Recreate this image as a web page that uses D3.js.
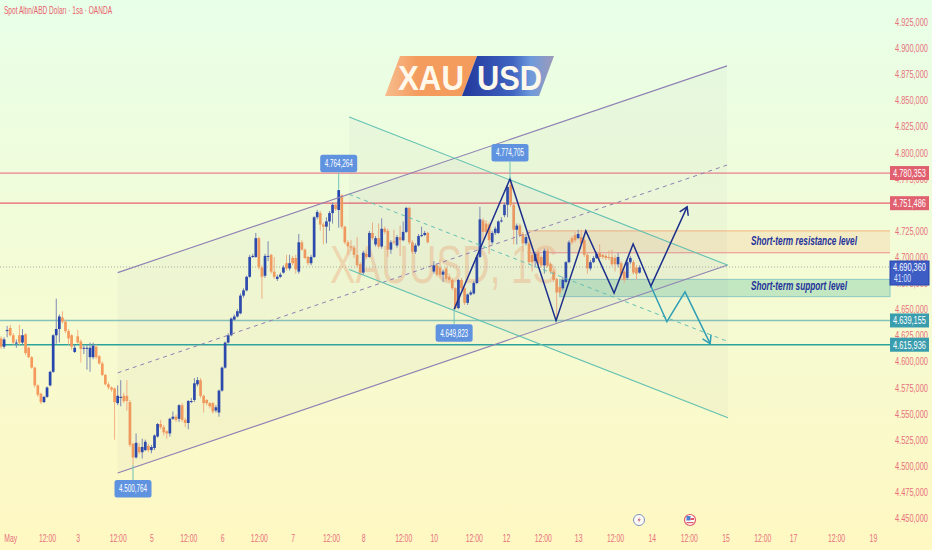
<!DOCTYPE html>
<html>
<head>
<meta charset="utf-8">
<script src="https://cdn.jsdelivr.net/npm/d3@7/dist/d3.min.js"></script>
<style>
html, body { margin: 0; padding: 0; background: #fff; }
svg { display: block; }
text { font-family: "Liberation Sans", sans-serif; }
</style>
</head>
<body>
<svg id="chart"></svg>
<script>
// hourly candles, index = bar number, null = weekend gap
const opens = [
  4622,4614,4629,4632,4625,4618,4625,4618,4626,4613,
  4604,4594,4577,4569,4561,4566,4577,4590,4625,4631,
  4642,4638,4629,4625,4609,4624,4619,4613,4613,4604,
  4604,4614,4605,4598,4587,4578,4575,4574,4560,4565,
  4567,4567,4561,4521,4508,4518,4513,4515,4519,4515,
  4517,4528,4540,4537,4533,4531,4545,4547,4545,4558,
  4544,4541,4562,4563,4578,4582,4567,4563,4560,4560,
  4553,4551,4572,4594,4618,4625,4640,4643,4646,4663,
  4668,4681,4700,4700,4718,4690,4682,4701,4702,4686,
  4679,4681,4685,4694,4689,4699,4699,4686,4714,4707,
  4700,4694,4700,4738,4742,4731,4729,4734,4742,4750,
  4745,4759,4729,4714,4710,4709,4702,4693,4685,4703,
  4700,4723,4712,4718,4710,4727,4725,4707,4715,4711,
  4719,4716,4724,4747,4714,4705,4711,4720,4721,4723,
  null,4686,4692,4690,4683,4689,4681,4678,4670,4651,
  4678,4670,4656,4664,4665,4675,4700,4735,4732,4731,
  4714,4723,4723,4734,4740,4750,4769,4750,4726,4730,
  4722,4713,4713,4702,4696,4704,4700,4692,4706,4693,
  4686,4679,4671,4670,4676,4695,4718,4721,4718,4719,
  4716,4702,4689,4695,4699,4704,4702,4701,4700,4700,
  4699,4693,4694,4686,4680,4695,4695,4690,4685];
const highs = [
  4624,4623,4634,4635,4627,4621,4635,4631,4627,4614,
  4605,4595,4578,4570,4567,4576,4591,4626,4660,4645,
  4648,4640,4631,4626,4616,4630,4621,4615,4616,4618,
  4618,4616,4606,4600,4588,4580,4576,4575,4577,4582,
  4570,4582,4563,4522,4531,4522,4526,4525,4521,4520,
  4530,4541,4544,4539,4534,4546,4552,4549,4559,4560,
  4546,4563,4565,4584,4585,4584,4568,4564,4561,4561,
  4558,4573,4595,4619,4627,4642,4645,4650,4665,4670,
  4682,4702,4703,4723,4719,4692,4703,4715,4703,4700,
  4683,4685,4692,4702,4702,4701,4702,4722,4716,4708,
  4701,4702,4739,4745,4744,4733,4738,4744,4752,4752,
  4764,4760,4730,4716,4716,4711,4719,4695,4706,4705,
  4725,4733,4720,4732,4737,4729,4727,4716,4726,4721,
  4730,4734,4748,4748,4716,4713,4722,4729,4725,4724,
  null,4696,4694,4698,4688,4691,4684,4680,4671,4679,
  4680,4671,4665,4668,4677,4702,4748,4737,4735,4733,
  4725,4729,4735,4738,4752,4768,4775,4751,4732,4732,
  4724,4722,4715,4704,4705,4706,4702,4708,4708,4695,
  4688,4680,4672,4681,4696,4716,4720,4724,4726,4726,
  4718,4704,4697,4701,4705,4712,4703,4703,4706,4707,
  4702,4704,4696,4688,4697,4701,4697,4692,4692];
const lows = [
  4612,4612,4623,4624,4616,4613,4616,4616,4606,4603,
  4593,4575,4566,4559,4560,4565,4576,4589,4617,4618,
  4636,4627,4616,4611,4608,4617,4599,4607,4592,4590,
  4602,4602,4597,4586,4577,4573,4571,4525,4558,4557,
  4560,4553,4518,4501,4507,4511,4507,4514,4513,4512,
  4515,4527,4535,4529,4526,4528,4544,4542,4542,4542,
  4537,4535,4560,4561,4576,4565,4551,4558,4555,4550,
  4551,4547,4571,4593,4617,4624,4639,4642,4645,4661,
  4667,4680,4699,4699,4688,4660,4680,4696,4684,4679,
  4677,4680,4684,4687,4687,4692,4684,4684,4706,4698,
  4692,4692,4699,4736,4725,4712,4713,4725,4732,4744,
  4728,4727,4712,4702,4706,4699,4690,4683,4683,4698,
  4699,4716,4710,4708,4708,4722,4700,4703,4712,4709,
  4701,4715,4723,4712,4703,4703,4710,4719,4720,4713,
  null,4684,4681,4680,4676,4677,4676,4668,4650,4650,
  4668,4654,4654,4663,4664,4674,4699,4715,4722,4703,
  4712,4721,4722,4733,4738,4738,4748,4712,4712,4719,
  4705,4711,4693,4686,4690,4692,4690,4684,4690,4684,
  4676,4640,4664,4668,4675,4694,4712,4714,4717,4712,
  4700,4684,4687,4694,4698,4698,4698,4697,4697,4691,
  4686,4690,4678,4675,4678,4693,4683,4678,4684];
const closes = [
  4614,4621,4630,4625,4618,4618,4618,4625,4608,4604,
  4594,4577,4568,4561,4566,4575,4590,4625,4631,4643,
  4638,4629,4622,4614,4613,4618,4612,4613,4613,4613,
  4615,4604,4598,4587,4578,4575,4573,4561,4567,4566,
  4562,4562,4520,4508,4522,4513,4518,4523,4515,4518,
  4529,4540,4537,4532,4531,4545,4547,4544,4558,4544,
  4541,4562,4562,4579,4582,4567,4560,4560,4557,4552,
  4556,4572,4594,4618,4625,4641,4643,4648,4663,4668,
  4681,4700,4701,4718,4690,4681,4701,4701,4686,4681,
  4681,4683,4690,4689,4694,4694,4688,4714,4707,4699,
  4694,4700,4738,4743,4731,4729,4734,4742,4750,4746,
  4764,4729,4714,4710,4709,4702,4692,4685,4704,4700,
  4723,4718,4718,4710,4727,4724,4707,4714,4714,4719,
  4716,4724,4747,4714,4705,4711,4720,4721,4723,4714,
  null,4692,4683,4683,4686,4679,4678,4670,4651,4678,
  4670,4656,4664,4666,4675,4700,4736,4724,4724,4716,
  4723,4727,4734,4735,4750,4767,4750,4726,4730,4721,
  4713,4719,4695,4695,4703,4694,4692,4706,4692,4686,
  4678,4666,4666,4678,4695,4714,4714,4716,4722,4713,
  4702,4689,4695,4699,4703,4700,4700,4699,4699,4693,
  4693,4700,4683,4678,4695,4699,4685,4684,4690];

const price_ticks = d3.range(4450, 4926, 25);
const time_bars = [3,15,25,38,49,61,72,84,95,107.5,118,131,141,154,164.5,176.5,188,200,212,224,236,248,258,272,284];
const time_labels = ['May','12:00','3','12:00','5','12:00','6','12:00','7','12:00','8','12:00','10','12:00','12','12:00','13','12:00','14','12:00','15','12:00','17','12:00','19'];

const level_prices = [4780.353, 4751.486, 4639.155, 4615.936];
const level_colors = ['#e0606f', '#e0606f', '#3a9dae', '#3a9dae'];
const last_price = 4690.36;
const last_countdown = '41:00';

const swing_labels = [[110, 4764.264, -1], [165.8, 4774.705, -1], [147.6, 4649.823, 1], [43, 4500.764, 1]];

// [bar, price] anchors of the drawings
const rise_top = [[38, 4685], [236.5, 4883]];
const rise_mid = [[38, 4589], [236.5, 4788]];
const rise_bot = [[38, 4493], [236.5, 4692]];
const fall_top = [[113.4, 4834], [236.8, 4692]];
const fall_mid = [[113.4, 4760], [236.8, 4619]];
const fall_bot = [[113.4, 4688], [236.8, 4546]];
const zigzag_main = [[147.6, 4649.8], [165.8, 4774.7], [180.8, 4639], [190.5, 4725], [199.7, 4665.5], [205.9, 4712.5], [211.7, 4672], [223.5, 4748]];
const zigzag_alt = [[211.7, 4672], [216.9, 4638], [222.8, 4666.5], [231, 4617]];
const resist_zone = [171.5, 4725, 4704];
const support_zone = [182, 4678.5, 4662];

let width = 932;
let height = 550;
let plot_right = 890;

let svg = d3.select('#chart').attr('width', width).attr('height', height);

let defs = svg.append('defs');
let bg = defs.append('linearGradient').attr('id', 'bg').attr('x1', 0).attr('x2', 0).attr('y1', 0).attr('y2', 1);
bg.append('stop').attr('offset', '0%').attr('stop-color', '#e8ffe8');
bg.append('stop').attr('offset', '100%').attr('stop-color', '#fff8c2');
let g_orange = defs.append('linearGradient').attr('id', 'logo_a').attr('x1', 0).attr('x2', 1).attr('y1', 0).attr('y2', 0);
g_orange.append('stop').attr('offset', '0%').attr('stop-color', '#f7bd8e');
g_orange.append('stop').attr('offset', '35%').attr('stop-color', '#f49c5e');
g_orange.append('stop').attr('offset', '100%').attr('stop-color', '#f49c5e');
let g_blue = defs.append('linearGradient').attr('id', 'logo_b').attr('x1', 0).attr('x2', 1).attr('y1', 0).attr('y2', 0);
g_blue.append('stop').attr('offset', '0%').attr('stop-color', '#22389c');
g_blue.append('stop').attr('offset', '55%').attr('stop-color', '#3f63c0');
g_blue.append('stop').attr('offset', '75%').attr('stop-color', '#6f9bdc');
g_blue.append('stop').attr('offset', '100%').attr('stop-color', '#9d9ab8');

svg.append('rect').attr('width', width).attr('height', height).attr('fill', 'url(#bg)');

// scales
let x = d3.scaleLinear().domain([0, 290]).range([1, 891.3]);
let y = d3.scaleLinear().domain([4925, 4450]).range([22, 518]);
let line = d3.line().x(d => x(d[0])).y(d => y(d[1]));
let fmt = d3.formatLocale({ decimal: ',', thousands: '.', grouping: [3], currency: ['', ''] }).format(',.3f');

// the reference font is a narrow one, so squeeze the text to fit
function squeeze(sel, len) {
    sel.attr('lengthAdjust', 'spacingAndGlyphs')
        .attr('textLength', function () {
            return len > 1 ? len : this.getComputedTextLength() * len;
        });
}

// watermark
svg.append('text')
    .attr('x', 330).attr('y', 283)
    .attr('font-size', 53)
    .attr('textLength', 228).attr('lengthAdjust', 'spacingAndGlyphs')
    .attr('fill', '#f5a06a').attr('fill-opacity', 0.36)
    .text('XAUUSD, 1S');

// channel fills
function channel(top, mid, bot, stroke) {
    svg.append('path')
        .attr('d', line([top[0], top[1], bot[1], bot[0]]) + 'Z')
        .attr('fill', '#8f93a8').attr('fill-opacity', 0.055);
    let g = svg.append('g').attr('fill', 'none').attr('stroke', stroke);
    g.append('path').attr('d', line(top)).attr('stroke-width', 1.1);
    g.append('path').attr('d', line(bot)).attr('stroke-width', 1.1);
    g.append('path').attr('d', line(mid)).attr('stroke-width', 1).attr('stroke-dasharray', '4 4');
}

// zones
svg.append('rect')
    .attr('x', x(resist_zone[0])).attr('width', plot_right - x(resist_zone[0]))
    .attr('y', y(resist_zone[1])).attr('height', y(resist_zone[2]) - y(resist_zone[1]))
    .attr('fill', '#f7b98a').attr('fill-opacity', 0.26);
svg.append('line').attr('x1', x(resist_zone[0])).attr('x2', plot_right)
    .attr('y1', y(resist_zone[1])).attr('y2', y(resist_zone[1]))
    .attr('stroke', '#f5c08f').attr('stroke-width', 1.2);
svg.append('rect')
    .attr('x', x(support_zone[0])).attr('width', plot_right - x(support_zone[0]))
    .attr('y', y(support_zone[1])).attr('height', y(support_zone[2]) - y(support_zone[1]))
    .attr('fill', '#8fd3b0').attr('fill-opacity', 0.5)
    .attr('stroke', '#8cc9c2').attr('stroke-width', 1);

// last price dotted line
svg.append('line')
    .attr('x1', 0).attr('x2', plot_right)
    .attr('y1', y(last_price)).attr('y2', y(last_price))
    .attr('stroke', '#a9ada6').attr('stroke-width', 1).attr('stroke-dasharray', '1 2');

// horizontal levels
svg.append('g').selectAll('line')
    .data(level_prices)
    .enter().append('line')
    .attr('x1', 0).attr('x2', plot_right)
    .attr('y1', d => y(d)).attr('y2', d => y(d))
    .attr('stroke', (d, i) => i == 2 ? '#86c4bb' : (i == 3 ? '#2aa39c' : (i == 0 ? '#ee7f8c' : '#e8606e')))
    .attr('stroke-width', (d, i) => i >= 2 ? 1.7 : 1.2);
// second red line of the resistance zone
svg.append('line').attr('x1', x(resist_zone[0])).attr('x2', plot_right)
    .attr('y1', y(resist_zone[2])).attr('y2', y(resist_zone[2]))
    .attr('stroke', '#ee8f90').attr('stroke-width', 1);

// candles
let bars = d3.range(opens.length).filter(i => opens[i] !== null);
let candle_g = svg.append('g');
candle_g.selectAll('line')
    .data(bars)
    .enter().append('line')
    .attr('x1', i => x(i)).attr('x2', i => x(i))
    .attr('y1', i => y(highs[i])).attr('y2', i => y(lows[i]))
    .attr('stroke', i => closes[i] >= opens[i] ? '#7e8ab5' : '#f6b180')
    .attr('stroke-width', 1);
candle_g.selectAll('rect')
    .data(bars)
    .enter().append('rect')
    .attr('x', i => x(i) - 1.35)
    .attr('width', 2.7)
    .attr('y', i => y(Math.max(opens[i], closes[i])))
    .attr('height', i => Math.max(1, Math.abs(y(opens[i]) - y(closes[i]))))
    .attr('fill', i => closes[i] >= opens[i] ? '#2746ad' : '#f59a5c');

channel(rise_top, rise_mid, rise_bot, '#8f80b4');
channel(fall_top, fall_mid, fall_bot, '#62c0b2');

// zigzag projections
function arrow_head(points, color) {
    let a = points[points.length - 2];
    let b = points[points.length - 1];
    let ax = x(a[0]), ay = y(a[1]), bx = x(b[0]), by = y(b[1]);
    let ang = Math.atan2(by - ay, bx - ax);
    let size = 9;
    let p1 = [bx - size * Math.cos(ang - 0.55), by - size * Math.sin(ang - 0.55)];
    let p2 = [bx - size * Math.cos(ang + 0.55), by - size * Math.sin(ang + 0.55)];
    svg.append('path')
        .attr('d', `M${p1[0]},${p1[1]}L${bx},${by}L${p2[0]},${p2[1]}`)
        .attr('fill', 'none').attr('stroke', color).attr('stroke-width', 1.5);
}
svg.append('path').attr('d', line(zigzag_alt))
    .attr('fill', 'none').attr('stroke', '#2f9fb6').attr('stroke-width', 1.5);
arrow_head(zigzag_alt, '#2f9fb6');
svg.append('path').attr('d', line(zigzag_main))
    .attr('fill', 'none').attr('stroke', '#1d2f8c').attr('stroke-width', 1.5);
arrow_head(zigzag_main, '#1d2f8c');

// swing high/low labels
let swing = svg.append('g').selectAll('g')
    .data(swing_labels)
    .enter().append('g')
    .attr('transform', d => `translate(${x(d[0])}, ${y(d[1])})`);
swing.append('line')
    .attr('y1', 0).attr('y2', d => d[2] > 0 ? 15 : -17)
    .attr('stroke', '#6fc3b8').attr('stroke-width', 1);
swing.append('rect')
    .attr('x', -18.5).attr('y', d => d[2] > 0 ? 15 : -35)
    .attr('width', 37).attr('height', 17.5).attr('rx', 2.5)
    .attr('fill', '#5f93e0');
swing.append('text')
    .attr('y', d => d[2] > 0 ? 27.5 : -22.5)
    .attr('text-anchor', 'middle').attr('font-size', 10).attr('fill', '#fff')
    .text(d => fmt(d[1]))
    .call(squeeze, 28);

// zone captions
svg.append('text').attr('x', 751).attr('y', 245)
    .attr('font-size', 12).attr('font-style', 'italic').attr('font-weight', 'bold')
    .attr('fill', '#24329a').text('Short-term resistance level').call(squeeze, 106);
svg.append('text').attr('x', 751).attr('y', 290)
    .attr('font-size', 12).attr('font-style', 'italic').attr('font-weight', 'bold')
    .attr('fill', '#24329a').text('Short-term support level').call(squeeze, 96);

// y axis
let axis_y = d3.axisRight(y).tickValues(price_ticks).tickFormat(fmt).tickSize(0).tickPadding(0);
let gy = svg.append('g').attr('transform', 'translate(895, 0)').call(axis_y);
gy.select('.domain').remove();
gy.selectAll('text').attr('fill', '#e8707c').attr('font-size', 11)
    .style('font-family', '"Liberation Sans", sans-serif')
    .call(squeeze, 33);

// x axis
let axis_x = d3.axisBottom(x).tickValues(time_bars)
    .tickFormat((d, i) => time_labels[i]).tickSize(0).tickPadding(0);
let gx = svg.append('g').attr('transform', 'translate(0, 534)').call(axis_x);
gx.select('.domain').remove();
gx.selectAll('text').attr('fill', '#e8707c').attr('font-size', 11)
    .style('font-family', '"Liberation Sans", sans-serif')
    .call(squeeze, 0.62);

// price badges
let badge = svg.append('g').selectAll('g')
    .data(level_prices)
    .enter().append('g')
    .attr('transform', d => `translate(890, ${y(d)})`);
badge.append('rect')
    .attr('x', 0).attr('y', -7).attr('width', 39).attr('height', 14)
    .attr('fill', (d, i) => level_colors[i]);
badge.append('text')
    .attr('x', 19.5).attr('y', 4)
    .attr('text-anchor', 'middle').attr('font-size', 11).attr('fill', '#fff')
    .text(d => fmt(d))
    .call(squeeze, 33);

let last_g = svg.append('g').attr('transform', `translate(890, ${y(last_price) - 6})`);
last_g.append('rect').attr('width', 39).attr('height', 24)
    .attr('fill', '#3d5cc4').attr('stroke', '#2746ad');
last_g.append('text').attr('x', 19.5).attr('y', 10)
    .attr('text-anchor', 'middle').attr('font-size', 11).attr('fill', '#fff').text(fmt(last_price))
    .call(squeeze, 33);
last_g.append('text').attr('x', 4).attr('y', 21)
    .attr('font-size', 11).attr('fill', '#dfe6ff').text(last_countdown)
    .call(squeeze, 17);

// title
svg.append('text').attr('x', 4).attr('y', 14)
    .attr('font-size', 11).attr('fill', '#e8606e')
    .attr('textLength', 108).attr('lengthAdjust', 'spacingAndGlyphs')
    .text('Spot Altın/ABD Doları · 1sa · OANDA');

// logo
let logo = svg.append('g');
logo.append('path').attr('d', 'M400,56L477,56L462,96L385,96Z').attr('fill', 'url(#logo_a)');
logo.append('path').attr('d', 'M477,56L554,56L539,96L462,96Z').attr('fill', 'url(#logo_b)');
logo.append('text').attr('x', 398).attr('y', 90)
    .attr('font-size', 35).attr('font-weight', 'bold').attr('fill', '#fff9ec')
    .attr('textLength', 66).attr('lengthAdjust', 'spacingAndGlyphs').text('XAU');
logo.append('text').attr('x', 477).attr('y', 90)
    .attr('font-size', 35).attr('font-weight', 'bold').attr('fill', '#fff9ec')
    .attr('textLength', 65).attr('lengthAdjust', 'spacingAndGlyphs').text('USD');

// event icons on the time axis
let ev1 = svg.append('g').attr('transform', 'translate(639, 520)');
ev1.append('circle').attr('r', 5.5).attr('fill', '#fdfdf5').attr('stroke', '#7f8fc4').attr('stroke-width', 1);
ev1.append('path').attr('d', 'M1,-3.5L-1.5,0.5L0.3,0.5L-1,3.5L1.8,-0.8L0,-0.8Z').attr('fill', '#c85a7c');
let ev2 = svg.append('g').attr('transform', 'translate(690, 520)');
ev2.append('circle').attr('r', 5.5).attr('fill', '#fdfdf5').attr('stroke', '#e0566a').attr('stroke-width', 1.2);
ev2.append('rect').attr('x', -3.5).attr('y', -4).attr('width', 4).attr('height', 4.5).attr('fill', '#4f7fd0');
ev2.append('rect').attr('x', 0.5).attr('y', -2).attr('width', 3.5).attr('height', 2).attr('fill', '#e0566a');
ev2.append('rect').attr('x', -3.5).attr('y', 2).attr('width', 7).attr('height', 1.2).attr('fill', '#e0566a');
</script>
</body>
</html>
